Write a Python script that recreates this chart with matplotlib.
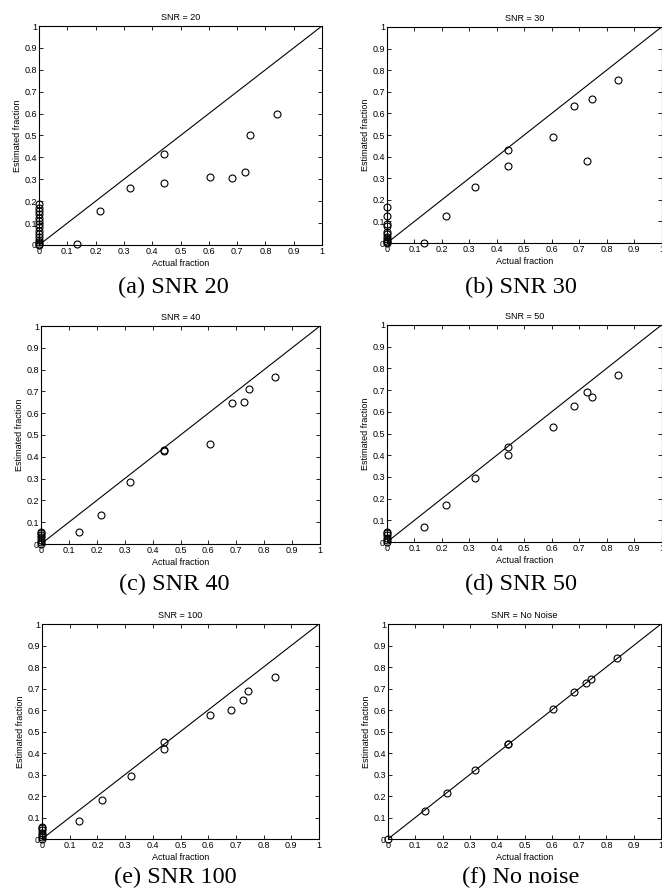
import matplotlib
matplotlib.use("Agg")
import matplotlib.pyplot as plt
import numpy as np

# ---- data ----
actual = [0.135, 0.215, 0.32, 0.44, 0.44, 0.605, 0.683, 0.727, 0.745, 0.84]

est_20 = [0.005, 0.157, 0.26, 0.415, 0.285, 0.312, 0.308, 0.335, 0.50, 0.60]
zero_est_20 = [0.0, 0.005, 0.015, 0.025, 0.035, 0.05, 0.065, 0.08, 0.095, 0.11,
               0.125, 0.14, 0.155, 0.17, 0.185]

est_30 = [0.0, 0.123, 0.258, 0.43, 0.358, 0.493, 0.635, 0.38, 0.667, 0.753]
zero_est_30 = [0.0, 0.005, 0.01, 0.02, 0.03, 0.04, 0.05, 0.08, 0.09, 0.125, 0.165]

est_40 = [0.055, 0.135, 0.283, 0.43, 0.425, 0.458, 0.645, 0.652, 0.71, 0.765]
zero_est_40 = [0.0, 0.01, 0.02, 0.03, 0.04, 0.05, 0.055]

est_50 = [0.07, 0.17, 0.293, 0.44, 0.40, 0.528, 0.625, 0.69, 0.667, 0.77]
zero_est_50 = [0.0, 0.01, 0.02, 0.03, 0.04, 0.045]

est_100 = [0.083, 0.18, 0.295, 0.45, 0.418, 0.575, 0.60, 0.645, 0.688, 0.753]
zero_est_100 = [0.0, 0.01, 0.02, 0.03, 0.04, 0.05, 0.055]

est_nn = [0.13, 0.215, 0.32, 0.44, 0.44, 0.605, 0.683, 0.727, 0.745, 0.84]
zero_est_nn = [0.0]

titles = ["SNR = 20", "SNR = 30", "SNR = 40", "SNR = 50", "SNR = 100", "SNR = No Noise"]
captions = ["(a) SNR 20", "(b) SNR 30", "(c) SNR 40", "(d) SNR 50", "(e) SNR 100", "(f) No noise"]
ticks = [0, 0.1, 0.2, 0.3, 0.4, 0.5, 0.6, 0.7, 0.8, 0.9, 1]
tick_labels = ["0", "0.1", "0.2", "0.3", "0.4", "0.5", "0.6", "0.7", "0.8", "0.9", "1"]

ests = [est_20, est_30, est_40, est_50, est_100, est_nn]
zero_ests = [zero_est_20, zero_est_30, zero_est_40, zero_est_50, zero_est_100, zero_est_nn]

W, H = 662, 896
fig = plt.figure(figsize=(W / 100, H / 100), dpi=100)

# axes boxes in pixels: left, right, top, bottom
boxes = [
    (39, 322, 26, 245),
    (387, 661.5, 27, 243),
    (41, 320, 326, 544),
    (387, 661.5, 325, 542),
    (42, 319, 624, 839),
    (388, 661, 624, 839),
]
cap_y = [287, 287, 584, 584, 877, 877]
cap_x = [173, 521, 174, 521, 175, 521]

sans = ["Liberation Sans", "DejaVu Sans"]
for i, (l, r, t, b) in enumerate(boxes):
    ax = fig.add_axes([l / W, 1 - b / H, (r - l) / W, (b - t) / H])
    ax.plot([0, 1], [0, 1], color="black", lw=0.8)
    xs = actual + [0.0] * len(zero_ests[i])
    ys = ests[i] + zero_ests[i]
    ax.plot(xs, ys, linestyle="none", marker="o", markersize=5,
            markerfacecolor="none", markeredgecolor="black", markeredgewidth=0.8,
            clip_on=False)
    ax.set_xlim(0, 1)
    ax.set_ylim(0, 1)
    ax.set_xticks(ticks)
    ax.set_yticks(ticks)
    ax.set_xticklabels(tick_labels, fontsize=6.5, family=sans)
    ax.set_yticklabels(tick_labels, fontsize=6.5, family=sans)
    ax.tick_params(direction="in", top=True, right=True, length=3, width=0.6, pad=1.5)
    for s in ax.spines.values():
        s.set_linewidth(0.8)
    ax.set_title(titles[i], fontsize=6.5, family=sans, pad=4)
    ax.set_xlabel("Actual fraction", fontsize=6.5, family=sans, labelpad=2)
    ax.set_ylabel("Estimated fraction", fontsize=6.5, family=sans, labelpad=2)
    fig.text(cap_x[i] / W, 1 - cap_y[i] / H, captions[i], ha="center", va="center",
             fontsize=17.5, family=["Liberation Serif", "DejaVu Serif"])

fig.savefig("out.png", dpi=100)
